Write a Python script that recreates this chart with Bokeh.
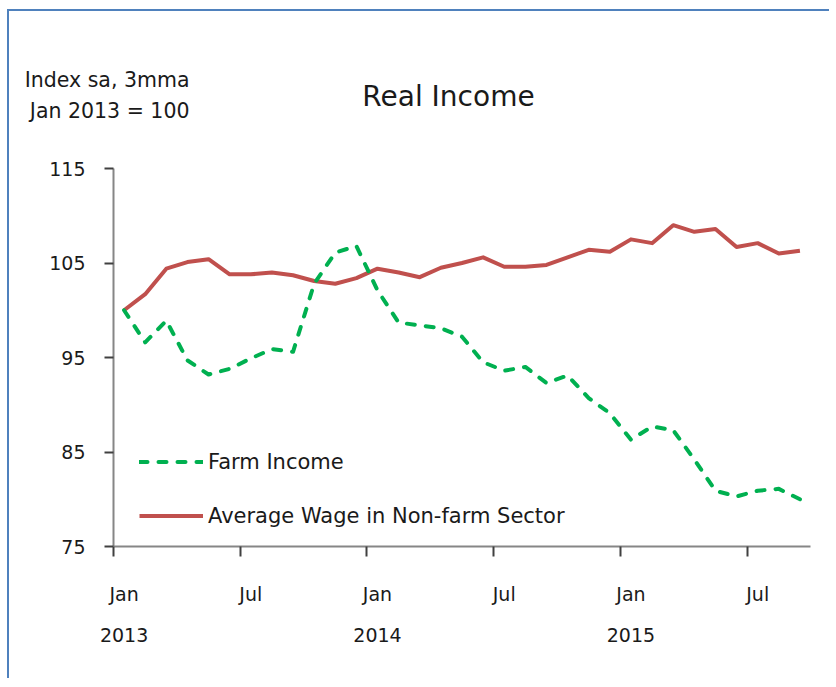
from bokeh.plotting import figure
from bokeh.layouts import column
from bokeh.models import (FixedTicker, LinearAxis, Range1d, Legend, LegendItem,
                          ColumnDataSource)
from bokeh.core.properties import value
from bokeh.embed import file_html
from bokeh.resources import INLINE

# ---------------- data ----------------
months = [f"{m} {y}" for y in (2013, 2014, 2015)
          for m in ["Jan", "Feb", "Mar", "Apr", "May", "Jun",
                    "Jul", "Aug", "Sep", "Oct", "Nov", "Dec"]][:33]

farm_income = [100.0, 96.6, 98.9, 94.7, 93.2, 93.8, 94.9, 95.9, 95.6, 102.8,
               106.1, 106.8, 102.1, 98.7, 98.4, 98.1, 97.2, 94.5, 93.6, 94.0,
               92.3, 93.1, 90.7, 89.1, 86.3, 87.7, 87.3, 84.2, 80.9, 80.3,
               80.9, 81.1, 80.0]

avg_wage = [100.0, 101.7, 104.4, 105.1, 105.4, 103.8, 103.8, 104.0, 103.7, 103.1,
            102.8, 103.4, 104.4, 104.0, 103.5, 104.5, 105.0, 105.6, 104.6, 104.6,
            104.8, 105.6, 106.4, 106.2, 107.5, 107.1, 109.0, 108.3, 108.6, 106.7,
            107.1, 106.0, 106.3]

y_ticks = [75, 85, 95, 105, 115]
series_names = ["Farm Income", "Average Wage in Non-farm Sector"]
title_text = "Real Income"
unit_lines = ["Index sa, 3mma", "Jan 2013 = 100"]

FONT = "DejaVu Sans"
GREEN = "#00B050"
RED = "#C0504D"
AXIS_GRAY = "#868686"
TXT = "#1a1a1a"
BORDER = "#4F81BD"

W = 820          # width of both stacked figures
TOP_H = 143      # header figure height (title area)
MAIN_H = 524

n = len(months)
x = [i + 0.5 for i in range(n)]          # each month drawn at its centre
bounds = [i for i, m in enumerate(months) if m.startswith(("Jan", "Jul"))]


def tick_label(i):
    mon, yr = months[i].split()
    return f"{mon}\n{yr}" if mon == "Jan" else mon


# ---------------- header (title + unit note) ----------------
top = figure(width=W, height=TOP_H, output_backend="svg", toolbar_location=None,
             x_range=Range1d(0, W), y_range=Range1d(TOP_H, 0),
             min_border=0, x_axis_location=None, y_axis_location=None,
             frame_align=False)
top.outline_line_color = None
top.grid.grid_line_color = None
top.text(x=[439], y=[85], text=[title_text], text_font=value(FONT),
         text_font_size="28px", text_align="center", text_baseline="middle",
         text_color=TXT)
top.text(x=[180, 180], y=[68, 99], text=unit_lines, text_font=value(FONT),
         text_font_size="20.5px", text_align="right", text_baseline="middle",
         text_color=TXT)

# ---------------- main chart ----------------
src = ColumnDataSource(dict(x=x, farm=farm_income, wage=avg_wage))

p = figure(width=W, height=MAIN_H, output_backend="svg", toolbar_location=None,
           x_range=Range1d(0, n), y_range=Range1d(y_ticks[0], y_ticks[-1]),
           min_border_left=104, min_border_right=19, min_border_top=14,
           min_border_bottom=132, frame_align=False)
p.outline_line_color = None
p.grid.grid_line_color = None

r_wage = p.line("x", "wage", source=src, line_color=RED, line_width=4,
                line_join="round")
r_farm = p.line("x", "farm", source=src, line_color=GREEN, line_width=4,
                line_dash="8 11", line_cap="round", line_join="round")

# y axis
ya = p.yaxis[0]
ya.ticker = FixedTicker(ticks=y_ticks)
ya.axis_line_color = AXIS_GRAY
ya.axis_line_width = 2
ya.major_tick_line_color = "#404040"
ya.major_tick_line_width = 2
ya.major_tick_out = 9
ya.major_tick_in = 0
ya.minor_tick_line_color = None
ya.major_label_standoff = 19
ya.major_label_text_font = FONT
ya.major_label_text_font_size = "19px"
ya.major_label_text_color = TXT

# x axis: tick marks at half-year boundaries, no labels
xa = p.xaxis[0]
xa.ticker = FixedTicker(ticks=bounds)
xa.axis_line_color = AXIS_GRAY
xa.axis_line_width = 2
xa.major_tick_line_color = "#404040"
xa.major_tick_line_width = 2
xa.major_tick_out = 10
xa.major_tick_in = 0
xa.minor_tick_line_color = None
xa.major_label_overrides = {b: "" for b in bounds}
xa.major_label_standoff = 0
xa.major_label_text_font_size = "1px"

# second axis: labels centred on the month
xl = LinearAxis(ticker=FixedTicker(ticks=[b + 0.5 for b in bounds]),
                major_label_overrides={b + 0.5: tick_label(b) for b in bounds},
                axis_line_color=None, major_tick_line_color=None,
                minor_tick_line_color=None, major_tick_out=0, major_tick_in=0,
                major_label_standoff=26, major_label_text_font=FONT,
                major_label_text_font_size="19px",
                major_label_text_color=TXT,
                major_label_text_line_height=1.9)
p.add_layout(xl, "below")

legend = Legend(items=[LegendItem(label=series_names[0], renderers=[r_farm]),
                       LegendItem(label=series_names[1], renderers=[r_wage])],
                location=(26, 18), orientation="vertical",
                glyph_width=64, glyph_height=25, label_standoff=5,
                label_text_font=FONT, label_text_font_size="21px",
                label_text_color=TXT, spacing=29, padding=0, margin=0,
                border_line_color=None, background_fill_alpha=0)
p.add_layout(legend, "center")

layout = column(top, p, spacing=0,
                styles={"border-top": f"2px solid {BORDER}",
                        "border-left": f"2px solid {BORDER}",
                        "margin-left": "7px", "margin-top": "9px"})

open("out.html", "w").write(file_html(layout, INLINE))
